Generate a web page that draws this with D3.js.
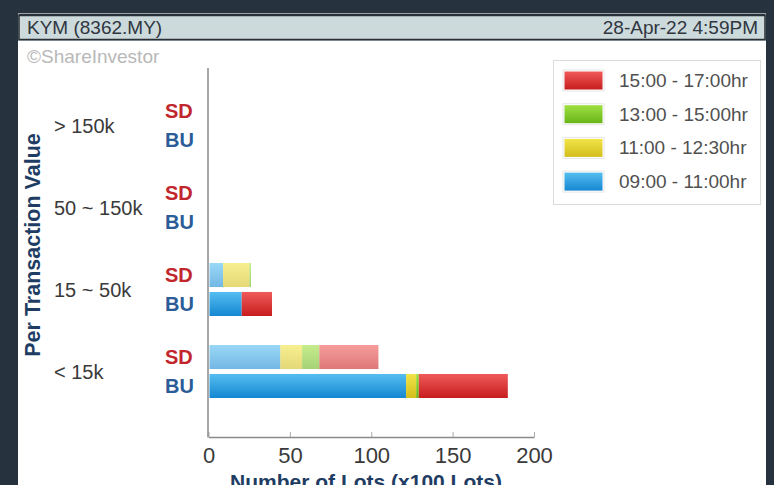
<!DOCTYPE html>
<html><head><meta charset="utf-8">
<script src="https://cdn.jsdelivr.net/npm/d3@7"></script>
<style>
html,body{margin:0;padding:0;background:#27323f;}
svg{display:block;font-family:"Liberation Sans",Arial,sans-serif;}
</style></head>
<body>
<script>
const categories = ["> 150k", "50 ~ 150k", "15 ~ 50k", "< 15k"];
const sides = ["SD", "BU"];
const slots = ["09:00 - 11:00hr", "11:00 - 12:30hr", "13:00 - 15:00hr", "15:00 - 17:00hr"];
// values per slot, per category [SD, BU]
const slot0900 = [[0, 0], [0, 0], [8.3, 19.8], [43.5, 120.8]];
const slot1100 = [[0, 0], [0, 0], [16.2, 0], [13.4, 6.2]];
const slot1300 = [[0, 0], [0, 0], [1.0, 0], [10.6, 1.6]];
const slot1500 = [[0, 0], [0, 0], [0, 18.6], [36.3, 54.7]];
const xTicks = [0, 50, 100, 150, 200];
const slotColors = [["#55bdf0", "#1587d2"], ["#f2e448", "#d2be1c"], ["#9fe040", "#69b51a"], ["#f05a5a", "#c81d1d"]];

const W = 774, H = 485;
const svg = d3.select("body").append("svg").attr("width", W).attr("height", H);
const defs = svg.append("defs");
slotColors.forEach((c, i) => {
  const g = defs.append("linearGradient").attr("id", "g" + i).attr("x1", 0).attr("y1", 0).attr("x2", 0).attr("y2", 1);
  g.append("stop").attr("offset", "0%").attr("stop-color", c[0]);
  g.append("stop").attr("offset", "100%").attr("stop-color", c[1]);
});

// header
svg.append("rect").attr("x", 18).attr("y", 40).attr("width", 748).attr("height", 445).attr("fill", "#fff");
svg.append("rect").attr("x", 18.5).attr("y", 13.5).attr("width", 747).attr("height", 27).attr("fill", "none").attr("stroke", "#9aa3ab");
svg.append("rect").attr("x", 19).attr("y", 15.5).attr("width", 746).attr("height", 24).attr("fill", "#cddadc").attr("stroke", "#2a2f36").attr("stroke-width", 1.5);
svg.append("text").attr("x", 27).attr("y", 34).attr("font-size", 19).attr("fill", "#2f3640").text("KYM (8362.MY)");
svg.append("text").attr("x", 758).attr("y", 34).attr("text-anchor", "end").attr("font-size", 19).attr("fill", "#2f3640").text("28-Apr-22 4:59PM");
svg.append("text").attr("x", 27).attr("y", 63).attr("font-size", 19).attr("fill", "#b8b8b8").text("©ShareInvestor");

// scales
const x = d3.scaleLinear().domain([0, 200]).range([208.5, 534]);
const y = d3.scaleBand().domain(categories).range([84.5, 412.5]);
const yi = d3.scaleBand().domain(sides).range([14.5, 67.5]).paddingInner(0.17);

const series = [slot0900, slot1100, slot1300, slot1500];
const rows = [];
categories.forEach((c, ci) => sides.forEach((s, si) => {
  const r = {cat: c, side: s};
  series.forEach((arr, k) => r["s" + k] = arr[ci][si]);
  rows.push(r);
}));
const stack = d3.stack().keys(["s0", "s1", "s2", "s3"])(rows);

const plot = svg.append("g");
stack.forEach((layer, k) => {
  plot.selectAll(null).data(layer.filter(d => d[1] - d[0] > 0)).enter().append("rect")
    .attr("x", d => x(d[0]) + 1)
    .attr("width", d => x(d[1]) - x(d[0]))
    .attr("y", d => y(d.data.cat) + yi(d.data.side))
    .attr("height", yi.bandwidth())
    .attr("fill", "url(#g" + k + ")")
    .attr("opacity", d => d.data.side === "SD" ? 0.6 : 1);
});

// axes
const xAxis = svg.append("g").attr("transform", "translate(0,437)")
  .call(d3.axisBottom(x).tickValues(xTicks).tickSizeInner(-5).tickSizeOuter(0).tickPadding(9));
xAxis.select(".domain").attr("stroke", "#8a8a8a").attr("stroke-width", 1.5);
xAxis.selectAll(".tick line").attr("stroke", "#aaa");
xAxis.selectAll(".tick text").attr("font-size", 22).attr("fill", "#3a3a3a").attr("font-family", "Liberation Sans, Arial, sans-serif").attr("dy", "0.75em");
svg.append("line").attr("x1", 208).attr("x2", 208).attr("y1", 68).attr("y2", 437.5).attr("stroke", "#8a8a8a").attr("stroke-width", 1.5);

// category labels
svg.selectAll(".cat").data(categories).enter().append("text")
  .attr("x", 54).attr("y", d => y(d) + y.bandwidth() / 2 + 7)
  .attr("font-size", 20).attr("fill", "#3a3a3a").text(d => d);
categories.forEach(c => sides.forEach(s => {
  svg.append("text").attr("x", 165).attr("y", y(c) + yi(s) + yi.bandwidth() / 2 + 7)
    .attr("font-size", 20).attr("font-weight", "bold")
    .attr("fill", s === "SD" ? "#c1262c" : "#2b5c98").text(s);
}));

// axis titles
svg.append("text").attr("transform", "translate(40,245) rotate(-90)").attr("text-anchor", "middle")
  .attr("font-size", 21.5).attr("font-weight", "bold").attr("fill", "#1f3d63").text("Per Transaction Value");
svg.append("text").attr("x", 366).attr("y", 489).attr("text-anchor", "middle")
  .attr("font-size", 21).attr("font-weight", "bold").attr("fill", "#1f3d63").text("Number of Lots (x100 Lots)");

// legend
svg.append("rect").attr("x", 553.5).attr("y", 60.5).attr("width", 207).attr("height", 144).attr("fill", "#fff").attr("stroke", "#dcdcdc");
const legendOrder = [3, 2, 1, 0];
legendOrder.forEach((k, i) => {
  const ly = 71 + i * 33.7;
  svg.append("rect").attr("x", 563).attr("y", ly - 1).attr("width", 41).attr("height", 21).attr("fill", "none").attr("stroke", "#e6e6e6");
  svg.append("rect").attr("x", 564.5).attr("y", ly + 0.5).attr("width", 38).attr("height", 18).attr("fill", "url(#g" + k + ")");
  svg.append("text").attr("x", 619).attr("y", ly + 16).attr("font-size", 19).attr("fill", "#505050").text(slots[k]);
});
</script>
</body></html>
